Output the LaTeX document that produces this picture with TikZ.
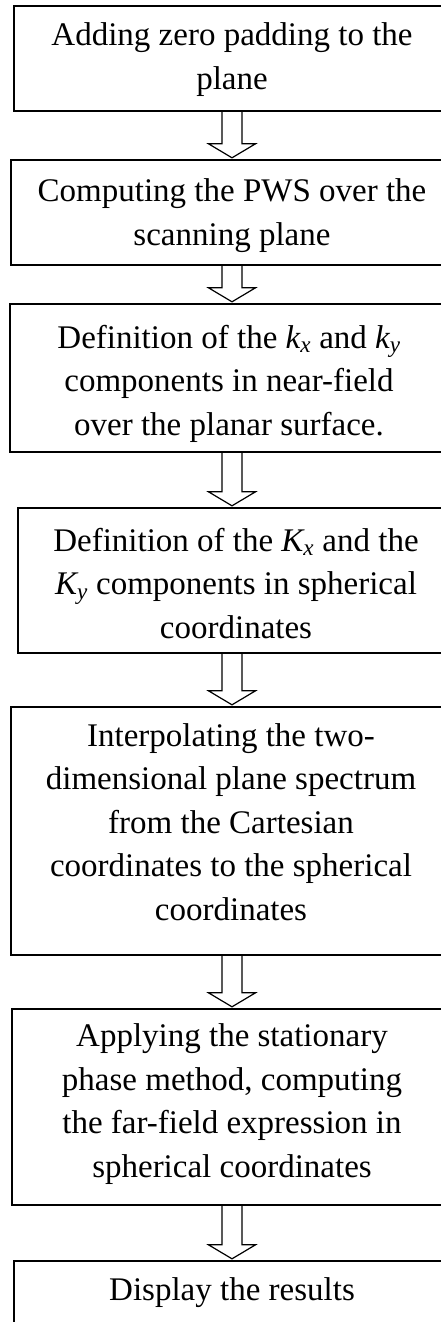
\RequirePackage{fix-cm}
\documentclass[tikz,border=0pt]{standalone}
\usepackage{fontspec}
\setmainfont{Liberation Serif}
\usetikzlibrary{calc}
\tikzset{
  box/.style={draw, line width=1.4pt, rectangle, inner sep=0pt},
  txt/.style={anchor=base, align=center, inner sep=0pt, font=\fontsize{33}{43.5}\selectfont},
  arr/.style={draw, line width=1.2pt, line join=miter}
}
\newcommand\fatarrow[2]{%
  \draw[arr] ($(#1.south)+(-10,0)$) -- ($(#2.north)+(-10,-15.5)$) -- ($(#2.north)+(-23.5,-15.5)$)
    -- ($(#2.north)+(0,-1.5)$) -- ($(#2.north)+(23.5,-15.5)$) -- ($(#2.north)+(10,-15.5)$)
    -- ($(#1.south)+(10,0)$);}
\newcommand\mk[2]{$\mathit{#1}_{\mathit{#2}}$}
\begin{document}
\begin{tikzpicture}[x=1pt, y=-1pt]
\useasboundingbox (0,0) rectangle (441,1322);
\clip (0,0) rectangle (441,1322);
% boxes
\node[box, minimum width=436pt, minimum height=105pt] (b1) at (232,58.5) {};
\node[box, minimum width=442pt, minimum height=105pt] (b2) at (232,212.5) {};
\node[box, minimum width=444pt, minimum height=148pt] (b3) at (232,378) {};
\node[box, minimum width=428pt, minimum height=145pt] (b4) at (232,580.5) {};
\node[box, minimum width=442pt, minimum height=248pt] (b5) at (232,831) {};
\node[box, minimum width=440pt, minimum height=196pt] (b6) at (232,1107) {};
\node[box, minimum width=436pt, minimum height=90pt] (b7) at (232,1306) {};
% texts (anchored at the baseline of the last line)
\node[txt] (t1) at (232,89) {Adding zero padding to the\\plane};
\node[txt] (t2) at (232,245) {Computing the PWS over the\\scanning plane};
\node[txt] (t3) at (229,435) {Definition of the \mk{k}{x} and \mk{k}{y}\\components in near-field\\over the planar surface.};
\node[txt] (t4) at (236,638) {Definition of the \mk{K}{x} and the\\\mk{K}{y} components in spherical\\coordinates};
\node[txt] (t5) at (231,920) {Interpolating the two-\\dimensional plane spectrum\\from the Cartesian\\coordinates to the spherical\\coordinates};
\node[txt] (t6) at (232,1177) {Applying the stationary\\phase method, computing\\the far-field expression in\\spherical coordinates};
\node[txt] (t7) at (232,1300) {Display the results};
% arrows
\fatarrow{b1}{b2}
\fatarrow{b2}{b3}
\fatarrow{b3}{b4}
\fatarrow{b4}{b5}
\fatarrow{b5}{b6}
\fatarrow{b6}{b7}
\end{tikzpicture}
\end{document}
